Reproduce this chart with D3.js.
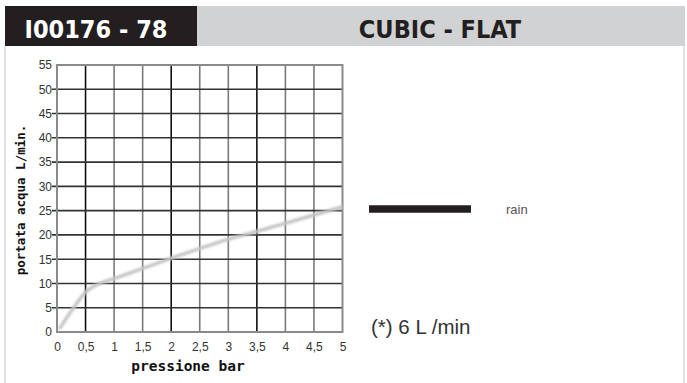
<!DOCTYPE html>
<html><head><meta charset="utf-8">
<script src="https://cdn.jsdelivr.net/npm/d3@7"></script>
<style>body{margin:0;background:#fff}svg{display:block}</style>
</head><body>
<svg id="c" width="687" height="383"></svg>
<script>
const codeTitle = "I00176 - 78";
const modelTitle = "CUBIC - FLAT";
const xLabel = "pressione bar";
const yLabel = "portata acqua L/min.";
const legendLabel = "rain";
const note = "(*) 6 L /min";
const xTicks = [0,0.5,1,1.5,2,2.5,3,3.5,4,4.5,5];
const yTicks = [0,5,10,15,20,25,30,35,40,45,50,55];
const pressure = [0.04, 0.25, 0.5, 0.75, 1, 1.5, 2, 2.5, 3, 3.5, 4, 4.5, 5];
const flow     = [0.6, 4.3, 8.2, 10.0, 11.0, 13.1, 15.2, 17.2, 19.1, 20.7, 22.4, 24.1, 25.8];
const darkX = [0.5, 2, 3.5];

const svg = d3.select("#c");
// frame
svg.append("line").attr("x1",5).attr("x2",5).attr("y1",46).attr("y2",383).attr("stroke","#e2e2e2").attr("stroke-width",2);
svg.append("line").attr("x1",684).attr("x2",684).attr("y1",46).attr("y2",383).attr("stroke","#e2e2e2").attr("stroke-width",2);
// header
svg.append("rect").attr("x",5).attr("y",6).attr("width",680).attr("height",40).attr("fill","#d1d2d4");
svg.append("rect").attr("x",5).attr("y",6).attr("width",192).attr("height",40).attr("fill","#231f20");
svg.append("text").attr("x",96).attr("y",38).attr("text-anchor","middle")
  .attr("font-family","'DejaVu Sans Condensed','DejaVu Sans',sans-serif").attr("font-stretch","condensed")
  .attr("font-weight","bold").attr("font-size",25).attr("fill","#fff").text(codeTitle);
svg.append("text").attr("x",440).attr("y",38).attr("text-anchor","middle")
  .attr("font-family","'DejaVu Sans Condensed','DejaVu Sans',sans-serif").attr("font-stretch","condensed")
  .attr("font-weight","bold").attr("font-size",25).attr("fill","#231f20").text(modelTitle);

const x = d3.scaleLinear().domain([0,5]).range([57,342.5]);
const y = d3.scaleLinear().domain([0,55]).range([332,65]);

const g = svg.append("g");
// grid
g.selectAll(".vx").data(xTicks.filter(d=>d>0&&d<5)).enter().append("line")
  .attr("x1",d=>x(d)).attr("x2",d=>x(d)).attr("y1",y(55)).attr("y2",y(0))
  .attr("stroke",d=>darkX.includes(d)?"#111":"#7a7a7a").attr("stroke-width",1.6);
g.selectAll(".hy").data(yTicks.filter(d=>d>0&&d<55)).enter().append("line")
  .attr("x1",x(0)-5).attr("x2",x(5)).attr("y1",d=>y(d)).attr("y2",d=>y(d))
  .attr("stroke","#333").attr("stroke-width",1.6);
g.append("rect").attr("x",x(0)).attr("y",y(55)).attr("width",x(5)-x(0)).attr("height",y(0)-y(55))
  .attr("fill","none").attr("stroke","#8a8a8a").attr("stroke-width",2);

// axes labels
const xa = svg.append("g").attr("transform",`translate(0,${y(0)})`)
  .call(d3.axisBottom(x).tickValues(xTicks).tickSize(0).tickPadding(10)
    .tickFormat(d=>String(d).replace(".",",")));
const ya = svg.append("g").attr("transform",`translate(${x(0)},0)`)
  .call(d3.axisLeft(y).tickValues(yTicks).tickSize(0).tickPadding(5));
[xa,ya].forEach(a=>{a.select(".domain").remove();
  a.selectAll("text").attr("font-family","'Liberation Sans',Arial,sans-serif").attr("font-size",12).attr("fill","#333");});

// curve
const defs = svg.append("defs");
defs.append("filter").attr("id","bl").append("feGaussianBlur").attr("stdDeviation",0.8);
const line = d3.line().x((d,i)=>x(pressure[i])).y(d=>y(d)).curve(d3.curveMonotoneX);
svg.append("path").datum(flow).attr("d",line).attr("fill","none")
  .attr("stroke","#c4c4c4").attr("stroke-width",3.4).attr("filter","url(#bl)");

// axis titles
svg.append("text").attr("x",188).attr("y",371).attr("text-anchor","middle")
  .attr("font-family","'DejaVu Sans Mono',monospace").attr("font-weight","bold").attr("font-size",14.5)
  .attr("fill","#111").text(xLabel);
svg.append("text").attr("transform","translate(25,200) rotate(-90)").attr("text-anchor","middle")
  .attr("font-family","'DejaVu Sans Mono',monospace").attr("font-weight","bold").attr("font-size",12.5)
  .attr("fill","#111").text(yLabel);

// legend
svg.append("line").attr("x1",369).attr("x2",471).attr("y1",209).attr("y2",209).attr("stroke","#231f20").attr("stroke-width",7.5);
svg.append("text").attr("x",506).attr("y",214).attr("font-family","'Liberation Sans',Arial,sans-serif")
  .attr("font-size",13).attr("fill","#555").text(legendLabel);
svg.append("text").attr("x",371).attr("y",334).attr("font-family","'Liberation Sans',Arial,sans-serif")
  .attr("font-size",20.5).attr("fill","#333").text(note);
</script>
</body></html>
